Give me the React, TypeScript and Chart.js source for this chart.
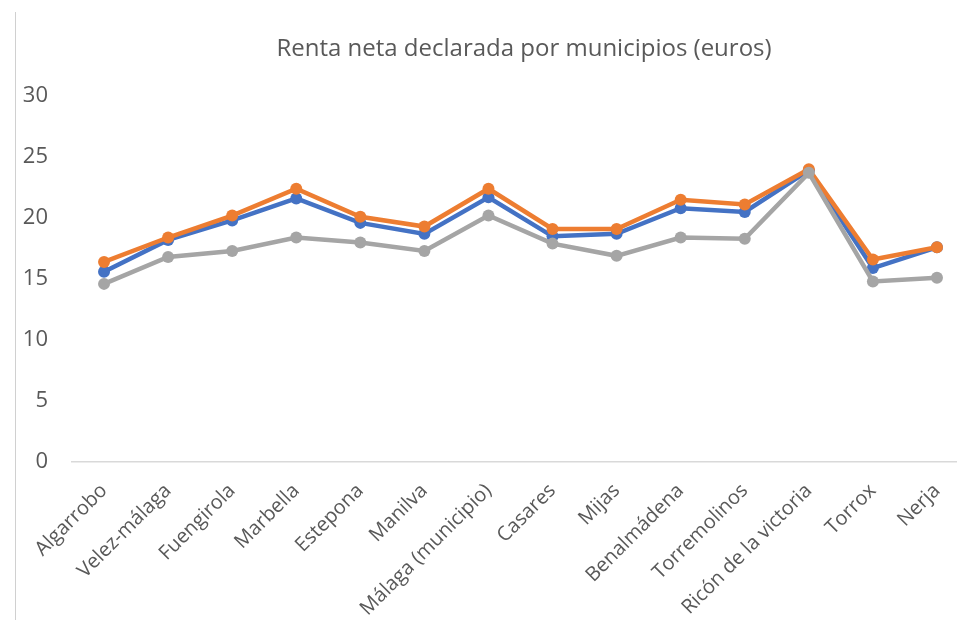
import React, { useEffect, useRef } from "react";
import { Chart, registerables } from "chart.js";

Chart.register(...registerables);

const TITLE = "Renta neta declarada por municipios (euros)";
const categories = [
  "Algarrobo",
  "Velez-málaga",
  "Fuengirola",
  "Marbella",
  "Estepona",
  "Manilva",
  "Málaga (municipio)",
  "Casares",
  "Mijas",
  "Benalmádena",
  "Torremolinos",
  "Ricón de la victoria",
  "Torrox",
  "Nerja",
];
const blueValues = [15.6, 18.2, 19.8, 21.6, 19.6, 18.7, 21.7, 18.5, 18.7, 20.8, 20.5, 23.9, 15.9, 17.6];
const orangeValues = [16.4, 18.4, 20.2, 22.4, 20.1, 19.3, 22.4, 19.1, 19.1, 21.5, 21.1, 24.0, 16.6, 17.6];
const grayValues = [14.6, 16.8, 17.3, 18.4, 18.0, 17.3, 20.2, 17.9, 16.9, 18.4, 18.3, 23.7, 14.8, 15.1];
const yTicks = [0, 5, 10, 15, 20, 25, 30];

const FONT = "'Open Sans', 'Noto Sans', sans-serif";

export default function App() {
  const canvasRef = useRef<HTMLCanvasElement | null>(null);

  useEffect(() => {
    document.body.style.margin = "0";
    const canvas = canvasRef.current;
    if (!canvas) return;
    const mk = (label: string, data: number[], color: string, order: number) => ({
      label,
      data,
      borderColor: color,
      backgroundColor: color,
      borderWidth: 4.5,
      pointRadius: 6,
      pointHoverRadius: 6,
      pointBorderWidth: 0,
      tension: 0,
      order,
    });
    const chart = new Chart(canvas, {
      type: "line",
      data: {
        labels: categories,
        datasets: [
          mk("Serie 1", blueValues, "#4472C4", 2),
          mk("Serie 2", orangeValues, "#ED7D31", 1),
          mk("Serie 3", grayValues, "#A5A5A5", 0),
        ],
      },
      options: {
        animation: false,
        responsive: true,
        maintainAspectRatio: false,
        layout: { padding: { top: 96, left: 0, right: 0, bottom: 0 } },
        plugins: {
          legend: { display: false },
          title: { display: false },
          tooltip: { enabled: false },
        },
        scales: {
          x: {
            type: "category",
            offset: true,
            grid: { display: false, drawTicks: false },
            border: { display: true, color: "#D9D9D9", width: 1.5 },
            ticks: {
              color: "#595959",
              font: { family: FONT, size: 20 },
              minRotation: 45,
              maxRotation: 45,
              autoSkip: false,
              padding: 17,
            },
            afterFit: (s: any) => {
              s.height = 158;
            },
          },
          y: {
            min: 0,
            max: 30,
            grid: { display: false, drawTicks: false },
            border: { display: false },
            afterBuildTicks: (s: any) => {
              s.ticks = yTicks.map((v) => ({ value: v }));
            },
            ticks: {
              color: "#595959",
              font: { family: FONT, size: 22 },
              padding: 24,
            },
            afterFit: (s: any) => {
              s.width = 72;
            },
          },
        },
      },
    });
    return () => chart.destroy();
  }, []);

  return (
    <div style={{ position: "relative", width: 957, height: 620, overflow: "hidden", background: "#fff" }}>
      <div style={{ position: "absolute", left: 0, top: 0, width: 975, height: 620 }}>
        <canvas ref={canvasRef} />
      </div>
      <div
        style={{
          position: "absolute",
          left: 15,
          top: 12,
          bottom: 0,
          width: 0,
          borderLeft: "1.5px solid #D0D0D0",
        }}
      />
      <div
        style={{
          position: "absolute",
          left: 24,
          width: 1000,
          top: 32,
          textAlign: "center",
          fontFamily: FONT,
          fontSize: 24,
          color: "#595959",
          whiteSpace: "nowrap",
          lineHeight: "30px",
        }}
      >
        {TITLE}
      </div>
    </div>
  );
}
